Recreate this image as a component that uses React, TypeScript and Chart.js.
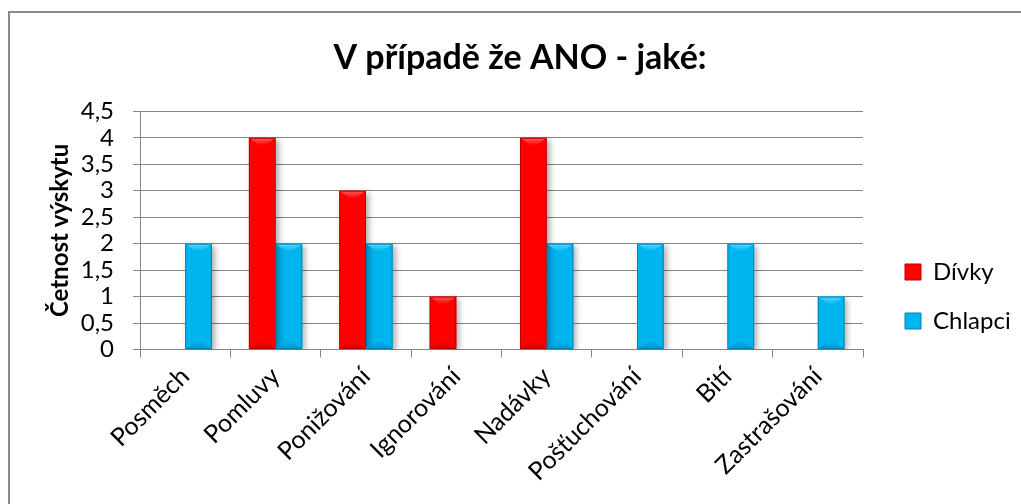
import { useEffect, useRef } from 'react';
import { Chart, registerables } from 'chart.js';

Chart.register(...registerables);

// ---- data ----
const categories = ['Posměch', 'Pomluvy', 'Ponižování', 'Ignorování', 'Nadávky', 'Pošťuchování', 'Bití', 'Zastrašování'];
const seriesNames = ['Dívky', 'Chlapci'];
const divky = [0, 4, 3, 1, 4, 0, 0, 0];
const chlapci = [2, 2, 2, 0, 2, 2, 2, 1];
const yMin = 0;
const yMax = 4.5;
const yStep = 0.5;
const chartTitle = 'V případě že ANO - jaké:';
const yAxisTitle = 'Četnost výskytu';

// ---- styles ----
const FONT = 'Lato';
const GRID = '#868686';
const palettes = [
  { base: '#FF0000', light: '#FF5A5A', dark: '#D00000', edge: '#B80000' },
  { base: '#00B4F0', light: '#55D8FF', dark: '#0092C8', edge: '#0082B2' },
];

function poly(ctx: CanvasRenderingContext2D, pts: number[][], fill: any) {
  ctx.beginPath();
  ctx.moveTo(pts[0][0], pts[0][1]);
  for (let i = 1; i < pts.length; i++) ctx.lineTo(pts[i][0], pts[i][1]);
  ctx.closePath();
  ctx.fillStyle = fill;
  ctx.fill();
}

const bevelPlugin = {
  id: 'bevel',
  beforeDatasetsDraw(chart: any) {
    const c = chart.ctx;
    c.save();
    c.shadowColor = 'rgba(0,0,0,0.32)';
    c.shadowBlur = 6;
    c.shadowOffsetX = 3;
    c.shadowOffsetY = 2;
  },
  afterDatasetsDraw(chart: any) {
    const ctx = chart.ctx as CanvasRenderingContext2D;
    ctx.restore();
    ctx.save();
    chart.data.datasets.forEach((_ds: any, i: number) => {
      const meta = chart.getDatasetMeta(i);
      const pal = palettes[i];
      meta.data.forEach((el: any) => {
        const { x, y, base, width } = el.getProps(['x', 'y', 'base', 'width'], true);
        const l = x - width / 2;
        const r = x + width / 2;
        const t = Math.min(y, base);
        const b = Math.max(y, base);
        const h = b - t;
        if (h < 1) return;
        const d = Math.min(8, h / 2);
        const s = width * 0.42;
        const gt = ctx.createLinearGradient(0, t, 0, t + d);
        gt.addColorStop(0, pal.light);
        gt.addColorStop(1, pal.base);
        poly(ctx, [[l, t], [r, t], [r - s, t + d], [l + s, t + d]], gt);
        const gb = ctx.createLinearGradient(0, b, 0, b - d);
        gb.addColorStop(0, pal.dark);
        gb.addColorStop(1, pal.base);
        poly(ctx, [[l, b], [r, b], [r - s, b - d], [l + s, b - d]], gb);
        ctx.strokeStyle = pal.edge;
        ctx.lineWidth = 1;
        ctx.strokeRect(l + 0.5, t + 0.5, width - 1, h - 1);
      });
    });
    ctx.restore();
  },
};

export default function App() {
  const ref = useRef<HTMLCanvasElement | null>(null);

  useEffect(() => {
    if (!ref.current) return;
    const chart = new Chart(ref.current, {
      type: 'bar',
      data: {
        labels: categories,
        datasets: [
          {
            label: seriesNames[0],
            data: divky,
            backgroundColor: palettes[0].base,
            borderColor: palettes[0].edge,
            borderWidth: 0,
            categoryPercentage: 0.59,
            barPercentage: 1,
            yAxisID: 'y',
          },
          {
            label: seriesNames[1],
            data: chlapci,
            backgroundColor: palettes[1].base,
            borderColor: palettes[1].edge,
            borderWidth: 0,
            categoryPercentage: 0.59,
            barPercentage: 1,
            yAxisID: 'y',
          },
        ],
      },
      options: {
        responsive: false,
        animation: false,
        events: [],
        layout: { padding: { left: 29, right: 10, top: 0, bottom: 0 } },
        plugins: {
          title: {
            display: true,
            text: chartTitle,
            color: '#000',
            font: { family: FONT, size: 34, weight: 'bold' },
            padding: { top: 37.6, bottom: 32.9 },
          },
          legend: {
            position: 'right',
            align: 'start',
            maxWidth: 131,
            title: { display: true, text: ' ', font: { size: 12 }, padding: { top: 220.6, bottom: 0 } },
            labels: {
              boxWidth: 16,
              boxHeight: 16,
              padding: 25,
              color: '#000',
              font: { family: FONT, size: 24 },
              generateLabels: (c: any) =>
                (Chart.defaults.plugins.legend.labels as any).generateLabels(c).map((it: any) => ({ ...it, lineWidth: 1 })),
            },
          },
          tooltip: { enabled: false },
        },
        scales: {
          x: {
            grid: { display: true, drawOnChartArea: false, drawTicks: true, tickLength: 8, color: GRID, offset: true },
            border: { display: true, color: GRID },
            ticks: {
              minRotation: 45,
              maxRotation: 45,
              autoSkip: false,
              padding: 4,
              color: '#000',
              font: { family: FONT, size: 25 },
            },
            afterFit: (s: any) => {
              s.height = 154.5;
            },
          },
          y: {
            min: yMin,
            max: yMax,
            ticks: {
              stepSize: yStep,
              autoSkip: false,
              padding: 19,
              color: '#000',
              font: { family: FONT, size: 24 },
              callback: (v: any) => String(v).replace('.', ','),
            },
            grid: { color: GRID, tickLength: 7 },
            border: { display: true, color: GRID },
            title: {
              display: true,
              text: yAxisTitle,
              color: '#000',
              font: { family: FONT, size: 24, weight: 'bold' },
              padding: { top: 16.6, bottom: 0 },
            },
            afterFit: (s: any) => {
              s.width = 111;
            },
          },
          y2: {
            position: 'right',
            display: true,
            grid: { display: false },
            border: { display: false },
            ticks: { display: false },
            afterFit: (s: any) => {
              s.width = 17;
            },
          },
        },
      } as any,
      plugins: [bevelPlugin],
    });
    return () => chart.destroy();
  }, []);

  return (
    <div style={{ position: 'absolute', left: 0, top: 0, width: 1021, height: 504, background: '#fff', overflow: 'hidden' }}>
      <div
        style={{
          position: 'absolute',
          left: 8,
          top: 11,
          width: 1013,
          height: 493,
          boxSizing: 'border-box',
          borderLeft: '2px solid #8c8c8c',
          borderTop: '2px solid #8c8c8c',
        }}
      />
      <canvas ref={ref} width={1021} height={504} style={{ position: 'absolute', left: 0, top: 0, display: 'block' }} />
    </div>
  );
}
